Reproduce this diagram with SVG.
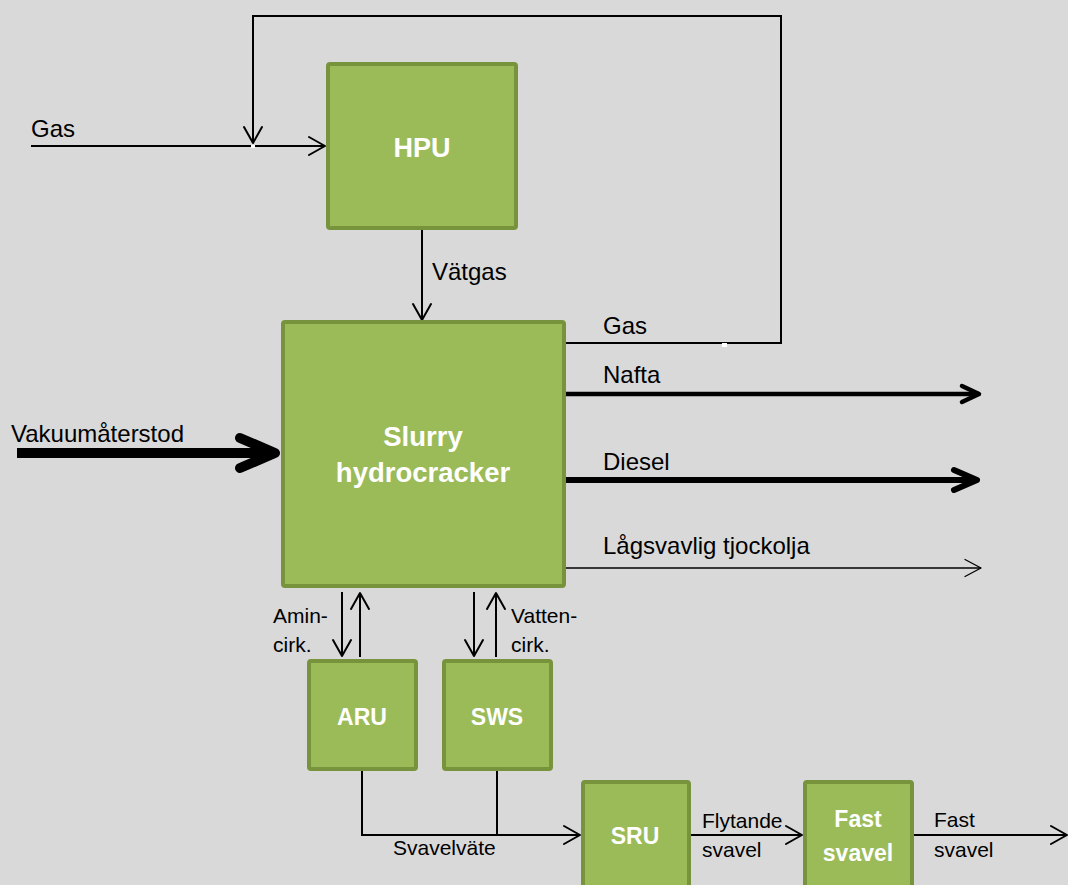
<svg xmlns="http://www.w3.org/2000/svg" width="1068" height="885" viewBox="0 0 1068 885">
  <style>
    .unit { fill: #9bbb59; stroke: #77933c; stroke-width: 4; }
    .uname { font-family: "Liberation Sans", Arial, sans-serif; font-weight: bold; fill: #ffffff; text-anchor: middle; }
    .lbl { font-family: "Liberation Sans", Arial, sans-serif; font-size: 24px; fill: #000000; }
    .sm { font-family: "Liberation Sans", Arial, sans-serif; font-size: 21px; fill: #000000; }
    .flow { fill: none; stroke: #000000; stroke-width: 2; }
    .head { fill: none; stroke: #000000; stroke-linecap: round; stroke-linejoin: round; }
  </style>
  <defs>
    <marker id="arr" markerUnits="userSpaceOnUse" markerWidth="20" markerHeight="20" refX="16" refY="9" orient="auto" overflow="visible">
      <path class="head" d="M0,0 L16,9 L0,18" stroke-width="2" stroke-linecap="butt"/>
    </marker>
    <marker id="arrThin" markerUnits="userSpaceOnUse" markerWidth="20" markerHeight="20" refX="16" refY="8.5" orient="auto" overflow="visible">
      <path class="head" d="M0,0 L16,8.5 L0,17" stroke-width="1.3" stroke-linecap="butt"/>
    </marker>
    <marker id="arrNafta" markerUnits="userSpaceOnUse" markerWidth="24" markerHeight="20" refX="17" refY="8" orient="auto" overflow="visible">
      <path class="head" d="M0,0 L17,8 L0,16" stroke-width="4.5"/>
    </marker>
    <marker id="arrDiesel" markerUnits="userSpaceOnUse" markerWidth="30" markerHeight="26" refX="23" refY="10" orient="auto" overflow="visible">
      <path class="head" d="M0,0 L23,10 L0,20" stroke-width="6"/>
    </marker>
    <marker id="arrFeed" markerUnits="userSpaceOnUse" markerWidth="50" markerHeight="50" refX="35" refY="15" orient="auto" overflow="visible">
      <path class="head" d="M0,0 L35,15 L0,30" stroke-width="10"/>
    </marker>
  </defs>

  <!-- background -->
  <rect x="0" y="0" width="1068" height="885" fill="#d9d9d9"/>

  <!-- connectors -->
  <g id="connectors">
    <!-- gas recycle loop back to the HPU feed -->
    <path class="flow" d="M566,343 H781 V16 H253 V143" marker-end="url(#arr)"/>
    <!-- gas feed to HPU -->
    <path class="flow" d="M31,146 H325" marker-end="url(#arr)"/>
    <!-- hydrogen to the cracker -->
    <path class="flow" d="M422,230 V320" marker-end="url(#arr)"/>
    <!-- vacuum residue feed -->
    <path fill="none" stroke="#000" stroke-width="10" d="M17,453 H275" marker-end="url(#arrFeed)"/>
    <!-- products -->
    <path fill="none" stroke="#000" stroke-width="4.5" d="M566,394 H979" marker-end="url(#arrNafta)"/>
    <path fill="none" stroke="#000" stroke-width="6" d="M566,480 H977" marker-end="url(#arrDiesel)"/>
    <path fill="none" stroke="#000" stroke-width="1.3" d="M566,568 H981" marker-end="url(#arrThin)"/>
    <!-- amine circulation -->
    <path class="flow" d="M342,592 V656" marker-end="url(#arr)"/>
    <path class="flow" d="M360,657 V593" marker-end="url(#arr)"/>
    <!-- water circulation -->
    <path class="flow" d="M474,592 V656" marker-end="url(#arr)"/>
    <path class="flow" d="M496,657 V593" marker-end="url(#arr)"/>
    <!-- hydrogen sulphide to SRU -->
    <path class="flow" d="M362,771 V835 H580" marker-end="url(#arr)"/>
    <path class="flow" d="M497,771 V835"/>
    <!-- sulphur chain -->
    <path class="flow" d="M691,835 H802" marker-end="url(#arr)"/>
    <path class="flow" d="M914,835 H1067" marker-end="url(#arr)"/>
    <!-- small white gaps on the gas lines -->
    <rect x="251" y="145" width="4" height="3" fill="#ffffff"/>
    <rect x="722" y="343" width="5" height="4" fill="#ffffff"/>
  </g>

  <!-- stream labels -->
  <g id="labels">
    <text class="lbl" x="31" y="137">Gas</text>
    <text class="lbl" x="432" y="280">Vätgas</text>
    <text class="lbl" x="11" y="442" font-size="25.5">Vakuumåterstod</text>
    <text class="lbl" x="603" y="334">Gas</text>
    <text class="lbl" x="603" y="383">Nafta</text>
    <text class="lbl" x="603" y="470">Diesel</text>
    <text class="lbl" x="603" y="554" font-size="24.5">Lågsvavlig tjockolja</text>
    <text class="sm" x="273" y="623">Amin-</text>
    <text class="sm" x="273" y="652">cirk.</text>
    <text class="sm" x="511" y="623">Vatten-</text>
    <text class="sm" x="511" y="652">cirk.</text>
    <text class="sm" x="393" y="855">Svavelväte</text>
    <text class="sm" x="702" y="828">Flytande</text>
    <text class="sm" x="702" y="857">svavel</text>
    <text class="sm" x="934" y="827">Fast</text>
    <text class="sm" x="934" y="857">svavel</text>
  </g>

  <!-- process units -->
  <g id="hpu">
    <rect class="unit" x="328" y="64" width="188" height="164" rx="2"/>
    <text class="uname" x="422" y="157" font-size="27">HPU</text>
  </g>
  <g id="slurry-hydrocracker">
    <rect class="unit" x="283" y="322" width="281" height="264" rx="2"/>
    <text class="uname" x="423" y="446" font-size="27.5">Slurry</text>
    <text class="uname" x="423" y="482" font-size="27.5">hydrocracker</text>
  </g>
  <g id="aru">
    <rect class="unit" x="309" y="661" width="107" height="108" rx="2"/>
    <text class="uname" x="362" y="725" font-size="23">ARU</text>
  </g>
  <g id="sws">
    <rect class="unit" x="444" y="661" width="107" height="108" rx="2"/>
    <text class="uname" x="497" y="725" font-size="23">SWS</text>
  </g>
  <g id="sru">
    <rect class="unit" x="583" y="782" width="106" height="110" rx="2"/>
    <text class="uname" x="635" y="844" font-size="23">SRU</text>
  </g>
  <g id="fast-svavel">
    <rect class="unit" x="805" y="782" width="107" height="110" rx="2"/>
    <text class="uname" x="858" y="827" font-size="23">Fast</text>
    <text class="uname" x="858" y="861" font-size="23">svavel</text>
  </g>
</svg>
